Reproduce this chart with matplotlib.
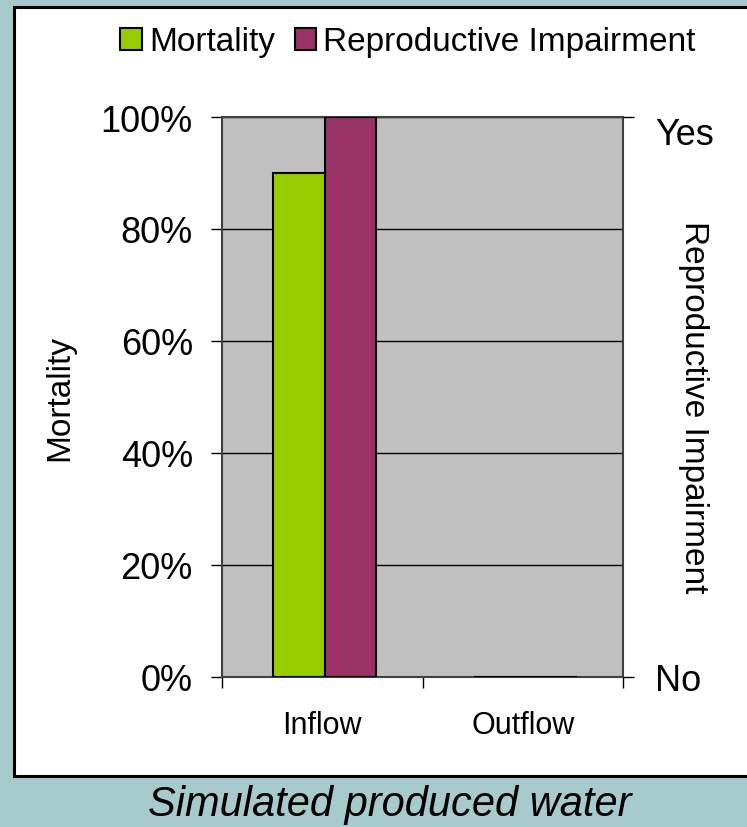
import matplotlib.pyplot as plt
from matplotlib.patches import Rectangle

categories = ["Inflow", "Outflow"]
mortality = [0.90, 0.0]
impairment = [1.0, 0.0]          # 1 = Yes, 0 = No
y_ticks = [0, 0.2, 0.4, 0.6, 0.8, 1.0]
y_labels = ["0%", "20%", "40%", "60%", "80%", "100%"]

green = "#99cc00"
plum = "#993366"
teal = "#a7cbcc"

fig = plt.figure(figsize=(7.47, 8.28), dpi=100, facecolor=teal)
plt.rcParams["font.family"] = ["Liberation Sans", "DejaVu Sans"]

# white panel with black border behind the chart
fig.patches.append(Rectangle((14 / 747, 1 - 777 / 828), 760 / 747, 769 / 828,
                             transform=fig.transFigure, facecolor="white",
                             edgecolor="black", linewidth=2.2, zorder=-5))

ax = fig.add_axes([222 / 747, 1 - 678 / 828, 401 / 747, 560 / 828])
ax.set_facecolor("#c0c0c0")

x = range(len(categories))
w = 0.257
shift = 0.013
ax.bar([i - w / 2 + shift for i in x], mortality, w, color=green,
       edgecolor="black", linewidth=1.5, label="Mortality", zorder=3)
ax.bar([i + w / 2 + shift for i in x], impairment, w, color=plum,
       edgecolor="black", linewidth=1.5, label="Reproductive Impairment", zorder=3)

ax.set_xlim(-0.5, 1.5)
ax.set_ylim(0, 1)
ax.set_yticks(y_ticks)
ax.set_yticklabels(y_labels, fontsize=26)
ax.tick_params(axis="y", direction="out", length=8, width=1, pad=13)
ax.yaxis.grid(True, color="black", linewidth=1)
ax.set_axisbelow(True)

# category labels between boundary ticks
ax.set_xticks([-0.5, 0.5, 1.5])
ax.set_xticklabels([])
ax.set_xticks([0, 1], minor=True)
ax.set_xticklabels(categories, minor=True, fontsize=22)
ax.tick_params(axis="x", which="major", direction="out", length=8, width=1)
ax.tick_params(axis="x", which="minor", length=0, pad=24)

for s in ax.spines.values():
    s.set_color("#404040")
    s.set_linewidth(1.5)

ax.set_ylabel("Mortality", fontsize=24)
ax.yaxis.set_label_coords(-0.367, 0.5)

ax2 = ax.twinx()
ax2.set_ylim(0, 1)
ax2.set_yticks([0, 1])
ax2.set_yticklabels(["No", "Yes"], fontsize=26)
ax2.get_yticklabels()[1].set_va("top")
ax2.tick_params(axis="y", direction="out", length=8, width=1, pad=15)
for s in ax2.spines.values():
    s.set_visible(False)

fig.text(694 / 747, 1 - 407 / 828, "Reproductive Impairment", rotation=-90,
         fontsize=24, ha="center", va="center")

h, l = ax.get_legend_handles_labels()
fig.legend(h, l, loc="center", bbox_to_anchor=(408 / 747, 1 - 43 / 828), ncol=2,
           frameon=False, fontsize=24, handlelength=0.65, handleheight=0.65,
           handletextpad=0.2, columnspacing=0.6, borderpad=0)

fig.text(390 / 747, 1 - 805 / 828, "Simulated produced water", fontsize=30,
         style="italic", ha="center", va="center")

fig.savefig("out.png", dpi=100, facecolor=teal)
